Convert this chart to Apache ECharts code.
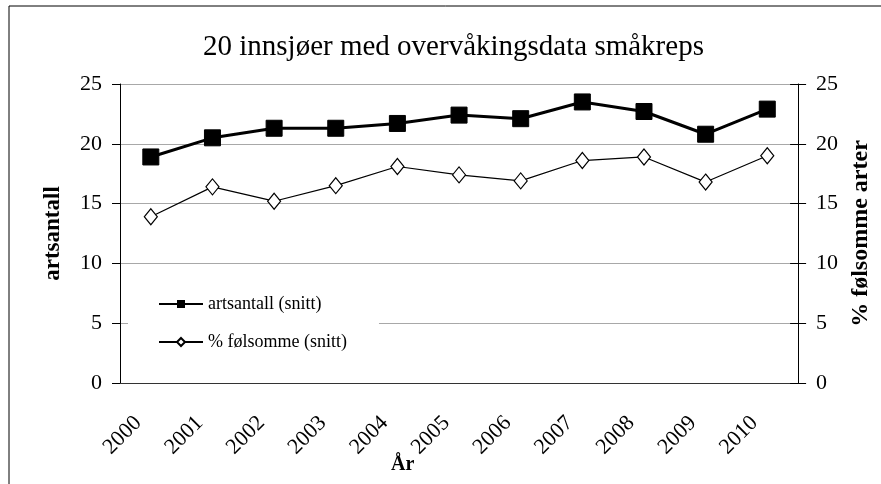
<!DOCTYPE html>
<html>
<head>
<meta charset="utf-8">
<script src="https://cdn.jsdelivr.net/npm/echarts@6/dist/echarts.min.js"></script>
<style>
  html, body { margin: 0; padding: 0; background: #fff; }
  #chart { width: 881px; height: 484px; }
</style>
</head>
<body>
<div id="chart"></div>
<script>
var years = ['2000', '2001', '2002', '2003', '2004', '2005', '2006', '2007', '2008', '2009', '2010'];
var artsantall = [18.9, 20.5, 21.3, 21.3, 21.7, 22.4, 22.1, 23.5, 22.7, 20.8, 22.9];
var folsomme = [13.9, 16.4, 15.2, 16.5, 18.1, 17.4, 16.9, 18.6, 18.9, 16.8, 19.0];
var yTicks = [0, 5, 10, 15, 20, 25];

var serif = "'Liberation Serif', 'Times New Roman', serif";

var chart = echarts.init(document.getElementById('chart'));

var option = {
    backgroundColor: '#fff',
    animation: false,
    title: [
        {
            text: '20 innsjøer med overvåkingsdata småkreps',
            left: 203,
            top: 33,
            padding: 0,
            textStyle: { fontFamily: serif, fontSize: 29, fontWeight: 'normal', color: '#000' }
        },
        {
            text: 'År',
            left: 391,
            top: 455,
            padding: 0,
            textStyle: { fontFamily: serif, fontSize: 20, fontWeight: 'bold', color: '#000' }
        }
    ],
    graphic: [
        {
            type: 'rect',
            shape: { x: 9, y: 6, width: 900, height: 500 },
            style: { fill: 'none', stroke: '#000', lineWidth: 1 },
            z: -1
        }
    ],
    legend: {
        orient: 'vertical',
        left: 128,
        top: 281,
        padding: [14, 32, 14, 30],
        backgroundColor: '#fff',
        itemWidth: 44,
        itemHeight: 10,
        itemGap: 20,
        textStyle: { fontFamily: serif, fontSize: 18, color: '#000' },
        data: ['artsantall (snitt)', '% følsomme (snitt)'],
        z: 5
    },
    grid: { left: 120, right: 79, top: 84, bottom: 101 },
    xAxis: [
        {
            type: 'category',
            data: years,
            boundaryGap: true,
            axisLine: { lineStyle: { color: '#000', width: 1 } },
            axisTick: { length: 8, lineStyle: { color: '#000' } },
            axisLabel: {
                rotate: 45,
                margin: 24,
                padding: [0, 18, 0, 0],
                fontFamily: serif,
                fontSize: 22,
                color: '#000'
            }
        },
        {
            type: 'category',
            data: years,
            position: 'top',
            axisLine: { show: true, lineStyle: { color: '#333', width: 1 } },
            axisTick: { show: false },
            axisLabel: { show: false }
        }
    ],
    yAxis: [
        {
            type: 'value',
            min: yTicks[0],
            max: yTicks[yTicks.length - 1],
            interval: 5,
            name: 'artsantall',
            nameLocation: 'middle',
            nameGap: 55,
            nameRotate: 90,
            nameTextStyle: { fontFamily: serif, fontSize: 23, fontWeight: 'bold', color: '#000' },
            axisLine: { show: true, lineStyle: { color: '#000' } },
            axisTick: { show: true, length: 8, lineStyle: { color: '#000' } },
            axisLabel: { margin: 18, fontFamily: serif, fontSize: 22, color: '#000' },
            splitLine: { show: true, lineStyle: { color: '#a8a8a8', width: 1 } }
        },
        {
            type: 'value',
            position: 'right',
            min: yTicks[0],
            max: yTicks[yTicks.length - 1],
            interval: 5,
            name: '% følsomme arter',
            nameLocation: 'middle',
            nameGap: 45,
            nameRotate: 90,
            nameTextStyle: { fontFamily: serif, fontSize: 24, fontWeight: 'bold', color: '#000' },
            axisLine: { show: true, lineStyle: { color: '#000' } },
            axisTick: { show: true, length: 8, lineStyle: { color: '#000' } },
            axisLabel: { margin: 18, fontFamily: serif, fontSize: 22, color: '#000' },
            splitLine: { show: false }
        },
        {
            type: 'value',
            position: 'right',
            min: yTicks[0],
            max: yTicks[yTicks.length - 1],
            interval: 5,
            axisLine: { show: false },
            axisTick: { show: true, inside: true, length: 8, lineStyle: { color: '#000' } },
            axisLabel: { show: false },
            splitLine: { show: false }
        }
    ],
    series: [
        {
            name: 'artsantall (snitt)',
            type: 'line',
            data: artsantall,
            yAxisIndex: 0,
            symbol: 'rect',
            symbolSize: 16,
            lineStyle: { color: '#000', width: 3 },
            itemStyle: { color: '#000', borderColor: '#000' },
            z: 4
        },
        {
            name: '% følsomme (snitt)',
            type: 'line',
            data: folsomme,
            yAxisIndex: 1,
            symbol: 'diamond',
            symbolSize: [13, 16],
            lineStyle: { color: '#000', width: 1.2 },
            itemStyle: { color: '#fff', borderColor: '#000', borderWidth: 1.2 },
            z: 3
        }
    ]
};

chart.setOption(option);
</script>
</body>
</html>
